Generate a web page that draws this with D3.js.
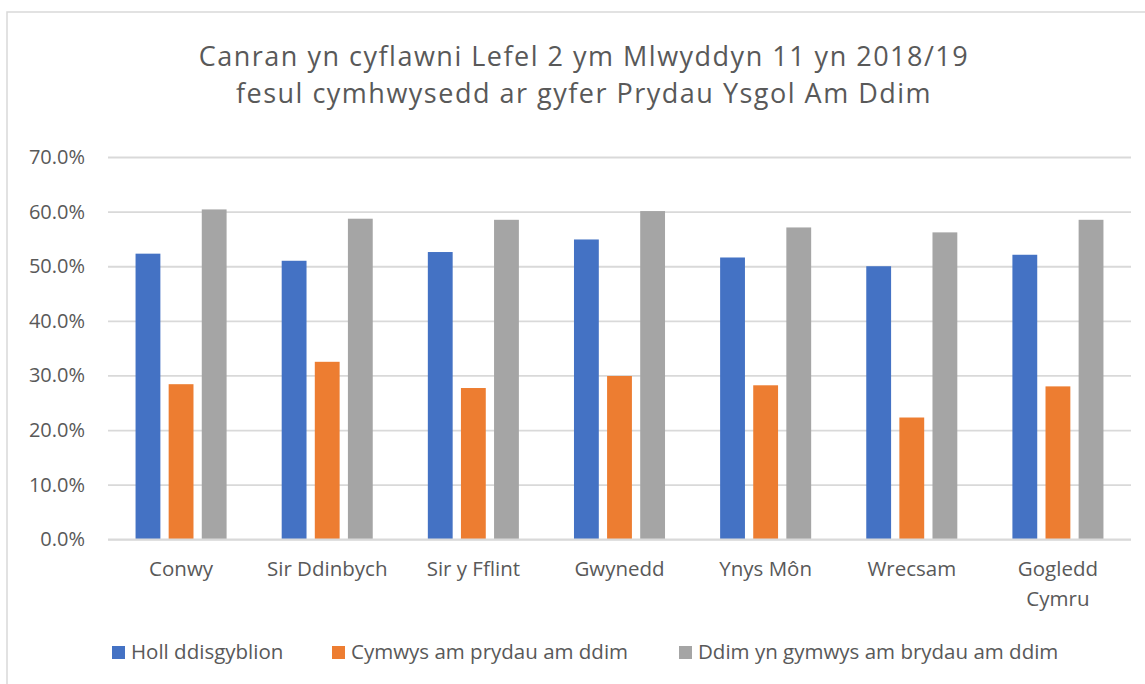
<!DOCTYPE html>
<html>
<head>
<meta charset="utf-8">
<script src="https://cdn.jsdelivr.net/npm/d3@7/dist/d3.min.js"></script>
<style>
  html, body { margin: 0; padding: 0; background: #fff; }
  svg { display: block; }
  text { font-family: "Open Sans", "Noto Sans", sans-serif; fill: #595959; }
</style>
</head>
<body>
<svg id="chart" width="1145" height="684"></svg>
<script>
const titleLines = ["Canran yn cyflawni Lefel 2 ym Mlwyddyn 11 yn 2018/19",
                    "fesul cymhwysedd ar gyfer Prydau Ysgol Am Ddim"];
const categories = ["Conwy", "Sir Ddinbych", "Sir y Fflint", "Gwynedd", "Ynys Môn", "Wrecsam", "Gogledd Cymru"];
const seriesNames = ["Holl ddisgyblion", "Cymwys am prydau am ddim", "Ddim yn gymwys am brydau am ddim"];
const hollDdisgyblion = [52.3, 51.0, 52.6, 54.9, 51.6, 50.0, 52.1];
const cymwys = [28.4, 32.5, 27.7, 29.9, 28.2, 22.3, 28.0];
const ddimYnGymwys = [60.4, 58.7, 58.5, 60.1, 57.1, 56.2, 58.5];
const yTicks = [0, 10, 20, 30, 40, 50, 60, 70];
const colors = ["#4472C4", "#ED7D31", "#A5A5A5"];

const seriesValues = [hollDdisgyblion, cymwys, ddimYnGymwys];
const table = categories.map((c, i) => ({cat: c, vals: seriesValues.map(s => s[i])}));

const svg = d3.select("#chart");

// outer frame
svg.append("rect").attr("x", 7).attr("y", 12).attr("width", 1160).attr("height", 700)
  .attr("fill", "none").attr("stroke", "#d9d9d9").attr("stroke-width", 1.5);

// title
const title = svg.append("text").attr("text-anchor", "middle")
  .style("font-size", "27px").style("letter-spacing", "1.5px");
titleLines.forEach((t, i) => {
  title.append("tspan").attr("x", 584).attr("y", 66 + i * 37).text(t);
});

const plotL = 108, plotR = 1131, plotT = 157, plotB = 539.3;
const y = d3.scaleLinear().domain([0, 70]).range([plotB, plotT]);
const x0 = d3.scaleBand().domain(categories).range([plotL, plotR]).paddingInner(0.377).paddingOuter(0.1885);
const x1 = d3.scaleBand().domain(d3.range(3)).range([0, x0.bandwidth()]).paddingInner(0.25);

// gridlines
const yAxis = d3.axisLeft(y).tickValues(yTicks).tickSize(-(plotR - plotL)).tickPadding(23)
  .tickFormat(d => d3.format(".1f")(d) + "%");
const gy = svg.append("g").attr("transform", `translate(${plotL},0)`).call(yAxis);
gy.select(".domain").remove();
gy.selectAll(".tick line").attr("stroke", "#d9d9d9").attr("stroke-width", 1.8);
gy.selectAll(".tick text").style("font-size", "20px").attr("fill", "#595959");

// bars
const groups = svg.append("g").selectAll("g").data(table).join("g")
  .attr("transform", d => `translate(${x0(d.cat)},0)`);
groups.selectAll("rect").data(d => d.vals.map((v, k) => ({v, k}))).join("rect")
  .attr("x", d => x1(d.k))
  .attr("width", x1.bandwidth())
  .attr("y", d => y(d.v))
  .attr("height", d => y(0) - y(d.v))
  .attr("fill", d => colors[d.k]);

// baseline axis
svg.append("line").attr("x1", plotL).attr("x2", plotR).attr("y1", y(0)).attr("y2", y(0))
  .attr("stroke", "#d9d9d9").attr("stroke-width", 1.8);

// x axis labels
const xAxis = d3.axisBottom(x0).tickSize(0).tickPadding(0);
const gx = svg.append("g").attr("transform", `translate(0,${plotB})`).call(xAxis);
gx.select(".domain").remove();
gx.selectAll(".tick text").style("font-size", "20.5px").attr("fill", "#595959").attr("dy", null).attr("y", 37)
  .each(function(d) {
    const el = d3.select(this);
    if (d === "Gogledd Cymru") {
      el.text(null);
      el.append("tspan").attr("x", 0).attr("y", 37).text("Gogledd");
      el.append("tspan").attr("x", 0).attr("y", 67).text("Cymru");
    }
  });

// legend
const legendX = [112, 332, 679];
const legend = svg.append("g").selectAll("g").data(seriesNames).join("g")
  .attr("transform", (d, i) => `translate(${legendX[i]},646)`);
legend.append("rect").attr("width", 13).attr("height", 13).attr("fill", (d, i) => colors[i]);
legend.append("text").attr("x", 19).attr("y", 12.5).style("font-size", "20.5px").text(d => d);
</script>
</body>
</html>
